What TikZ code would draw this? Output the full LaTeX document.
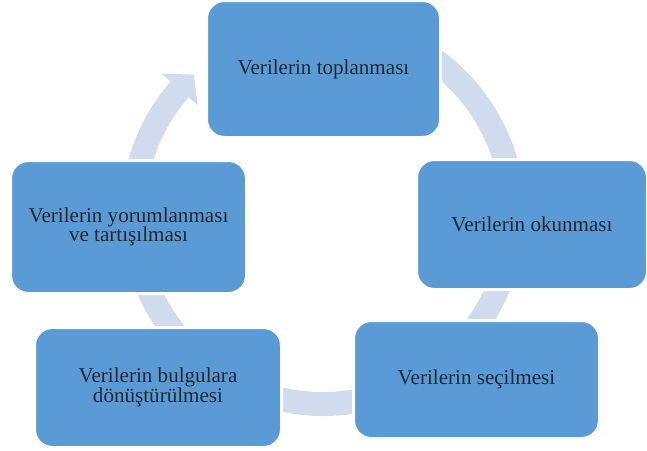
\documentclass[tikz,border=0pt]{standalone}
\usepackage{fontspec}
\setmainfont{Liberation Serif}
\definecolor{boxblue}{RGB}{91,155,213}
\definecolor{ringblue}{RGB}{208,220,238}
\definecolor{boxtext}{RGB}{32,40,52}

\begin{document}
\begin{tikzpicture}[
		box/.style={rectangle, rounded corners=0.36cm, fill=boxblue, draw=white, line width=0.06cm,
			align=center, inner sep=0pt, text=boxtext, font=\fontsize{12}{11}\selectfont},
		ring/.style={draw=ringblue, line width=0.48cm}]

		\useasboundingbox (0,0) rectangle (12.94,-9);

		\coordinate (mid) at (6.46,-4.28);

		% the cycle arrow, drawn first so the boxes cover it
		\draw[ring] ([shift={(80:3.8)}]mid) arc[start angle=80, end angle=-222, radius=3.8];
		\fill[ringblue] ([shift={(139:3.32)}]mid) -- ([shift={(132.8:3.8)}]mid) -- ([shift={(139:4.28)}]mid) -- cycle;

		\node[box, minimum width=4.68cm, minimum height=2.74cm] (toplama) at (6.47,-1.38) {Verilerin toplanması};
		\node[box, minimum width=4.62cm, minimum height=2.60cm] (okuma) at (10.64,-4.49) {Verilerin okunması};
		\node[box, minimum width=4.92cm, minimum height=2.36cm] (secim) at (9.53,-7.59) {Verilerin seçilmesi};
		\node[box, minimum width=4.94cm, minimum height=2.40cm] (bulgu) at (3.16,-7.75) {Verilerin bulgulara\\dönüştürülmesi};
		\node[box, minimum width=4.72cm, minimum height=2.66cm] (yorum) at (2.57,-4.54) {Verilerin yorumlanması\\ve tartışılması};
	\end{tikzpicture}
\end{document}
